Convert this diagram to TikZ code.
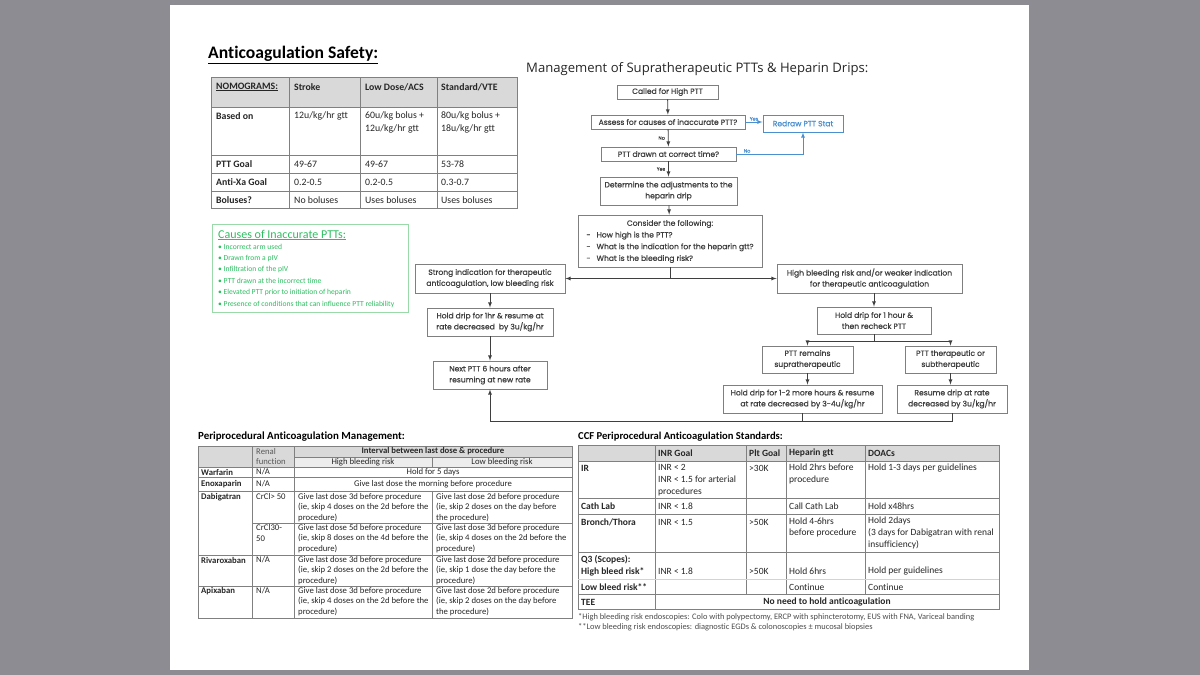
\documentclass[tikz,border=0pt]{standalone}
\usepackage{fontspec}
\setmainfont{Carlito}[Ligatures=NoCommon]
\newfontfamily\flowfont{Poppins}[FakeBold=0.7]
\newfontfamily\headfont{Open Sans}
\definecolor{pagegray}{HTML}{8D8C92}
\definecolor{boxgray}{HTML}{7F7F7F}
\definecolor{flowtext}{HTML}{3F3F3F}
\definecolor{tabletext}{HTML}{262626}
\definecolor{headgray}{HTML}{D9D9D9}
\definecolor{subgray}{HTML}{EDEDED}
\definecolor{gridgray}{HTML}{808080}
\definecolor{redrawblue}{HTML}{4A90D0}
\definecolor{causegreen}{HTML}{2DBE60}
\definecolor{causeline}{HTML}{9AD9A8}
\begin{document}
\begin{tikzpicture}[x=1pt, y=-1pt]
        % Common Styles
        \tikzset{flowbox/.style={draw=boxgray, line width=0.9pt, fill=white, text=flowtext, align=center, inner sep=0pt, font=\flowfont\fontsize{7.6}{11}\selectfont}}
        \tikzset{link/.style={draw=flowtext, line width=0.8pt}}
        \tikzset{bluelink/.style={draw=redrawblue, line width=0.8pt}}
        \tikzset{tag/.style={inner sep=0pt, text=flowtext, font=\flowfont\fontsize{4.8}{5}\selectfont}}
        \tikzset{grid/.style={draw=gridgray, line width=0.8pt}}
        \tikzset{cell/.style={anchor=west, inner sep=0pt, align=left, text=tabletext}}
        \tikzset{nomo/.style={cell, font=\fontsize{9.8}{13}\selectfont}}
        \tikzset{nomob/.style={cell, font=\bfseries\fontsize{9.8}{13}\selectfont}}
        \tikzset{peri/.style={cell, font=\fontsize{8.7}{10.5}\selectfont}}
        \tikzset{perib/.style={cell, font=\bfseries\fontsize{8.7}{10.5}\selectfont}}
        \tikzset{ccf/.style={cell, font=\fontsize{9.5}{11.7}\selectfont}}
        \tikzset{ccfb/.style={cell, font=\bfseries\fontsize{9.5}{11.7}\selectfont}}

        % 0. Page
        \useasboundingbox (0,0) rectangle (1200,675);
        \fill[pagegray] (0,0) rectangle (1200,675);
        \fill[white] (170,5) rectangle (1029,670);

        % 1. Nomogram table
        \node[anchor=west, inner sep=0pt, font=\bfseries\fontsize{17.6}{20}\selectfont] (title) at (208,55) {\underline{Anticoagulation Safety:}};
        \fill[headgray] (211,77) rectangle (517,107);
        \draw[grid] (211,77) rectangle (517,208);
        \foreach \x in {289,360,437} \draw[grid] (\x,77) -- (\x,208);
        \foreach \y in {107,155,173,191} \draw[grid] (211,\y) -- (517,\y);
        \node[nomob] (nomo) at (216,87) {\underline{NOMOGRAMS:}};
        \node[nomob] (stroke) at (294,87) {Stroke};
        \node[nomob] (acs) at (365,87) {Low Dose/ACS};
        \node[nomob] (vte) at (441,87) {Standard/VTE};
        \node[nomob] (based) at (216,116) {Based on};
        \node[nomo] (based1) at (294,116) {12u/kg/hr gtt};
        \node[nomo] (based2) at (365,122.5) {60u/kg bolus +\\12u/kg/hr gtt};
        \node[nomo] (based3) at (441,122.5) {80u/kg bolus +\\18u/kg/hr gtt};
        \node[nomob] (ptt) at (216,164) {PTT Goal};
        \node[nomo] (ptt1) at (294,164) {49-67};
        \node[nomo] (ptt2) at (365,164) {49-67};
        \node[nomo] (ptt3) at (441,164) {53-78};
        \node[nomob] (xa) at (216,182) {Anti-Xa Goal};
        \node[nomo] (xa1) at (294,182) {0.2-0.5};
        \node[nomo] (xa2) at (365,182) {0.2-0.5};
        \node[nomo] (xa3) at (441,182) {0.3-0.7};
        \node[nomob] (bol) at (216,200) {Boluses?};
        \node[nomo] (bol1) at (294,200) {No boluses};
        \node[nomo] (bol2) at (365,200) {Uses boluses};
        \node[nomo] (bol3) at (441,200) {Uses boluses};

        % 2. Causes of inaccurate PTTs
        \draw[draw=causeline, line width=0.8pt] (212,224) rectangle (408,312);
        \node[anchor=west, inner sep=0pt, text=causegreen, font=\fontsize{12}{14}\selectfont] (causes) at (218,235) {\underline{Causes of Inaccurate PTTs:}};
        \node[anchor=west, inner sep=0pt, align=left, text=causegreen, font=\fontsize{7.6}{11.4}\selectfont] (causelist) at (218,275.5) {• Incorrect arm used\\• Drawn from a pIV\\• Infiltration of the pIV\\• PTT drawn at the incorrect time\\• Elevated PTT prior to initiation of heparin\\• Presence of conditions that can influence PTT reliability};

        % 3. Flowchart
        \node[anchor=west, inner sep=0pt, text=black!85, font=\headfont\fontsize{13.1}{15}\selectfont] (mgmt) at (526,69) {Management of Supratherapeutic PTTs \& Heparin Drips:};
        \node[flowbox, minimum width=101, minimum height=14] (call) at (667.5,92) {Called for High PTT};
        \node[flowbox, minimum width=154, minimum height=14] (assess) at (668,122) {Assess for causes of inaccurate PTT?};
        \node[flowbox, draw=redrawblue, text=redrawblue, minimum width=80, minimum height=17] (redraw) at (803,123.5) {Redraw PTT Stat};
        \node[flowbox, minimum width=135, minimum height=14] (drawn) at (668.5,154) {PTT drawn at correct time?};
        \node[flowbox, minimum width=137, minimum height=28] (determ) at (668.5,191) {Determine the adjustments to the\\heparin drip};
        \node[flowbox, minimum width=184, minimum height=52, font=\flowfont\fontsize{7.6}{11.7}\selectfont] (consider) at (670,241) {\begin{tabular}{@{}l@{\hspace{6pt}}l@{}}\multicolumn{2}{c}{Consider the following:}\\-&How high is the PTT?\\-&What is the indication for the heparin gtt?\\-&What is the bleeding risk?\end{tabular}};
        \node[flowbox, minimum width=150, minimum height=29] (strong) at (490,278.5) {Strong indication for therapeutic\\anticoagulation, low bleeding risk};
        \node[flowbox, minimum width=185, minimum height=29] (high) at (869.5,278.5) {High bleeding risk and/or weaker indication\\for therapeutic anticoagulation};
        \node[flowbox, minimum width=126, minimum height=28] (hold1) at (490,322) {Hold drip for 1hr \& resume at\\rate decreased \ by 3u/kg/hr};
        \node[flowbox, minimum width=114, minimum height=28] (next) at (490,375) {Next PTT 6 hours after\\resuming at new rate};
        \node[flowbox, minimum width=114, minimum height=27] (hold2) at (874,320.5) {Hold drip for 1 hour \&\\then recheck PTT};
        \node[flowbox, minimum width=91, minimum height=27] (remains) at (807.5,359.5) {PTT remains\\supratherapeutic};
        \node[flowbox, minimum width=91, minimum height=27] (ther) at (950.5,359.5) {PTT therapeutic or\\subtherapeutic};
        \node[flowbox, minimum width=159, minimum height=28] (hold3) at (802.5,399) {Hold drip for 1-2 more hours \& resume\\at rate decreased by 3-4u/kg/hr};
        \node[flowbox, minimum width=110, minimum height=28] (resume) at (952,399) {Resume drip at rate\\decreased by 3u/kg/hr};

        \draw[link, -latex] (call) -- (assess);
        \draw[link, -latex] (assess) -- node[tag, left=3pt] {No} (drawn);
        \draw[link, -latex] (drawn) -- node[tag, left=3pt] {Yes} (determ);
        \draw[link, -latex] (determ) -- (consider);
        \draw[bluelink, -latex] (assess.east) -- node[tag, above=1pt, text=redrawblue] {Yes} (assess.east -| redraw.west);
        \draw[bluelink, -latex] (drawn.east) -| node[tag, above=1pt, pos=0.08, text=redrawblue] {No} (redraw.south);
        \coordinate (cbr) at (consider.south |- strong.east);
        \draw[link] (consider.south) -- (cbr);
        \draw[link, -latex] (cbr) -- (strong.east);
        \draw[link, -latex] (cbr) -- (high.west);
        \draw[link, -latex] (strong) -- (hold1);
        \draw[link, -latex] (hold1) -- (next);
        \draw[link, -latex] (hold2.north |- high.south) -- (hold2.north);
        \coordinate (hbr) at (874,341);
        \draw[link] (hold2.south) -- (hbr);
        \draw[link, -latex] (hbr) -| (remains.north);
        \draw[link, -latex] (hbr) -| (ther.north);
        \draw[link, -latex] (remains.south) -- (remains.south |- hold3.north);
        \draw[link, -latex] (ther.south) -- (ther.south |- resume.north);
        \coordinate (ret) at (490,421);
        \draw[link] (hold3.south) -- (hold3.south |- ret);
        \draw[link, -latex] (resume.south) |- (ret) -- (next.south);

        % 4. Periprocedural anticoagulation management
        \node[anchor=west, inner sep=0pt, font=\bfseries\fontsize{10.9}{12}\selectfont] (peritt) at (198,437) {Periprocedural Anticoagulation Management:};
        \fill[headgray] (198,446) rectangle (572,457);
        \fill[headgray] (198,457) rectangle (294,467);
        \fill[subgray] (294,457) rectangle (572,467);
        \draw[grid] (198,446) rectangle (572,618);
        \foreach \x in {252,294} \draw[grid] (\x,446) -- (\x,618);
        \draw[grid] (432,457) -- (432,467);
        \draw[grid] (432,491) -- (432,618);
        \draw[grid] (294,457) -- (572,457);
        \foreach \y in {467,477,491,555,586} \draw[grid] (198,\y) -- (572,\y);
        \draw[grid] (252,523) -- (572,523);
        \node[peri, text=black!65] (renal) at (256,456.5) {Renal\\function};
        \node[perib, anchor=center] (interval) at (433,451.5) {Interval between last dose \& procedure};
        \node[peri, anchor=center] (highrisk) at (363,462) {High bleeding risk};
        \node[peri, anchor=center] (lowrisk) at (502,462) {Low bleeding risk};
        \node[perib] (warf) at (201,472) {Warfarin};
        \node[peri] (warfr) at (256,472) {N/A};
        \node[peri, anchor=center] (warfi) at (433,472) {Hold for 5 days};
        \node[perib] (enox) at (201,484) {Enoxaparin};
        \node[peri] (enoxr) at (256,484) {N/A};
        \node[peri, anchor=center] (enoxi) at (433,484) {Give last dose the morning before procedure};
        \node[perib] (dabi) at (201,497) {Dabigatran};
        \node[peri] (dabir1) at (256,497) {CrCl> 50};
        \node[peri] (dabih1) at (298,507.5) {Give last dose 3d before procedure\\(ie, skip 4 doses on the 2d before the\\procedure)};
        \node[peri] (dabil1) at (436,507.5) {Give last dose 2d before procedure\\(ie, skip 2 doses on the day before\\the procedure)};
        \node[peri] (dabir2) at (256,533) {CrCl30-\\50};
        \node[peri] (dabih2) at (298,538.5) {Give last dose 5d before procedure\\(ie, skip 8 doses on the 4d before the\\procedure)};
        \node[peri] (dabil2) at (436,538.5) {Give last dose 3d before procedure\\(ie, skip 4 doses on the 2d before the\\procedure)};
        \node[perib] (riva) at (201,560) {Rivaroxaban};
        \node[peri] (rivar) at (256,560) {N/A};
        \node[peri] (rivah) at (298,570.5) {Give last dose 3d before procedure\\(ie, skip 2 doses on the 2d before the\\procedure)};
        \node[peri] (rival) at (436,570.5) {Give last dose 2d before procedure\\(ie, skip 1 dose the day before the\\procedure)};
        \node[perib] (apix) at (201,591) {Apixaban};
        \node[peri] (apixr) at (256,591) {N/A};
        \node[peri] (apixh) at (298,601.5) {Give last dose 3d before procedure\\(ie, skip 4 doses on the 2d before the\\procedure)};
        \node[peri] (apixl) at (436,601.5) {Give last dose 2d before procedure\\(ie, skip 2 doses on the day before\\the procedure)};

        % 5. CCF periprocedural standards
        \node[anchor=west, inner sep=0pt, font=\bfseries\fontsize{10.6}{12}\selectfont] (ccftt) at (578,437) {CCF Periprocedural Anticoagulation Standards:};
        \fill[headgray] (578,445) rectangle (999,461);
        \draw[grid] (578,445) rectangle (999,609);
        \draw[grid] (655,445) -- (655,609);
        \foreach \x in {746,786,865} \draw[grid] (\x,445) -- (\x,594);
        \foreach \y in {461,498,514,552,594} \draw[grid] (578,\y) -- (999,\y);
        \draw[draw=gridgray!35, line width=0.8pt] (578,579) -- (999,579);
        \node[ccfb] (inrh) at (658,453) {INR Goal};
        \node[ccfb] (plth) at (749,453) {Plt Goal};
        \node[ccfb] (heph) at (789,453) {Heparin gtt};
        \node[ccfb] (doach) at (868,453) {DOACs};
        \node[ccfb] (ir) at (581,468) {IR};
        \node[ccf] (irinr) at (658,480) {INR < 2\\INR < 1.5 for arterial\\procedures};
        \node[ccf] (irplt) at (749,468) {>30K};
        \node[ccf] (irhep) at (789,474) {Hold 2hrs before\\procedure};
        \node[ccf] (irdoac) at (868,468) {Hold 1-3 days per guidelines};
        \node[ccfb] (cath) at (581,506) {Cath Lab};
        \node[ccf] (cathinr) at (658,506) {INR < 1.8};
        \node[ccf] (cathhep) at (789,506) {Call Cath Lab};
        \node[ccf] (cathdoac) at (868,506) {Hold x48hrs};
        \node[ccfb] (bron) at (581,522) {Bronch/Thora};
        \node[ccf] (broninr) at (658,522) {INR < 1.5};
        \node[ccf] (bronplt) at (749,522) {>50K};
        \node[ccf] (bronhep) at (789,527.5) {Hold 4-6hrs\\before procedure};
        \node[ccf] (brondoac) at (868,533) {Hold 2days\\(3 days for Dabigatran with renal\\insufficiency)};
        \node[ccfb] (scope) at (581,566) {Q3 (Scopes):\\High bleed risk*};
        \node[ccf] (scopeinr) at (658,571) {INR < 1.8};
        \node[ccf] (scopeplt) at (749,571) {>50K};
        \node[ccf] (scopehep) at (789,571) {Hold 6hrs};
        \node[ccf] (scopedoac) at (868,571) {Hold per guidelines};
        \node[ccfb] (lowb) at (581,587) {Low bleed risk**};
        \node[ccf] (lowbhep) at (789,587) {Continue};
        \node[ccf] (lowbdoac) at (868,587) {Continue};
        \node[ccfb] (tee) at (581,602) {TEE};
        \node[ccfb, anchor=center] (teeall) at (827,602) {No need to hold anticoagulation};
        \node[anchor=west, inner sep=0pt, text=black!70, font=\fontsize{8.4}{9}\selectfont] (foot1) at (578,617) {*High bleeding risk endoscopies: Colo with polypectomy, ERCP with sphincterotomy, EUS with FNA, Variceal banding};
        \node[anchor=west, inner sep=0pt, text=black!70, font=\fontsize{8.4}{9}\selectfont] (foot2) at (578,627) {**Low bleeding risk endoscopies: diagnostic EGDs \& colonoscopies ± mucosal biopsies};
\end{tikzpicture}
\end{document}
